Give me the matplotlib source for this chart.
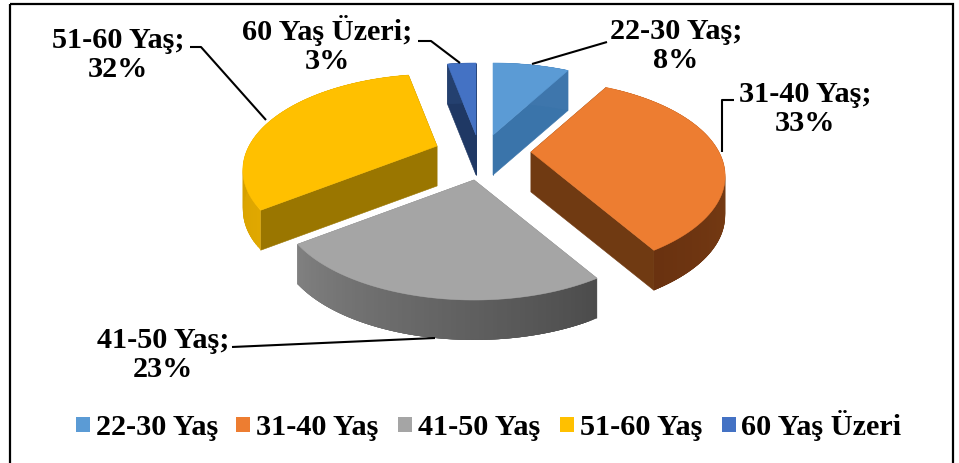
import numpy as np
import matplotlib
matplotlib.use("Agg")
import matplotlib.pyplot as plt
from matplotlib.patches import Polygon, Rectangle
from matplotlib.colors import to_rgb

categories = ["22-30 Yaş", "31-40 Yaş", "41-50 Yaş", "51-60 Yaş", "60 Yaş Üzeri"]
values = [8, 33, 23, 32, 3]
total = 99
# the chart's own percentages sum to 99; angles normalised on it
top_colors = ["#5B9BD5", "#ED7D31", "#A5A5A5", "#FFC000", "#4472C4"]
rim_start = ["#3E76AC", "#8A4A18", "#4C4C4C", "#E0A800", "#24406F"]
rim_end = ["#3E76AC", "#6A3210", "#808080", "#B98C00", "#24406F"]
radial_colors = ["#3A74AA", "#703A12", "#808080", "#9A7600", "#1F3864"]
apexes = [(493, 135), (531, 152), (474, 180), (437, 146), (476, 135)]
label_texts = ["22-30 Yaş;\n8%", "31-40 Yaş;\n33%", "41-50 Yaş;\n23%", "51-60 Yaş;\n32%", "60 Yaş Üzeri;\n3%"]
label_pos = [(676, 46), (805, 109), (163, 355), (118, 55), (327, 45)]
leaders = [
    [(532, 64), (607, 42)],
    [(734, 100), (722, 100), (722, 152)],
    [(232, 347), (435, 338)],
    [(190, 47), (201, 47), (266, 120)],
    [(418, 41), (431, 41), (460, 63)],
]
legend_box_x = [76, 236, 398, 560, 722]
legend_text_x = [96, 256, 418, 580, 741]

R, B, K, DEPTH = 188, 90, 0.25, 40
plt.rcParams["font.family"] = ["Liberation Serif", "DejaVu Serif"]
FS = 21.8

fig = plt.figure(figsize=(9.59, 4.63), dpi=100, facecolor="white")
ax = fig.add_axes([0, 0, 1, 1])
ax.set_xlim(0, 959)
ax.set_ylim(463, 0)
ax.axis("off")


def project(apex, theta):
    x = np.sin(theta)
    y = -np.cos(theta)
    s = 1 / (1 - K * y)
    return np.column_stack([apex[0] + R * x * s, apex[1] + B * y * s])


def mix(c1, c2, t):
    a, b = np.array(to_rgb(c1)), np.array(to_rgb(c2))
    return tuple(a + (b - a) * t)


def quad(p, q, color, z, lw=0.0):
    pts = [p, q, (q[0], q[1] + DEPTH), (p[0], p[1] + DEPTH)]
    ax.add_patch(Polygon(pts, closed=True, facecolor=color, edgecolor=color, lw=lw, zorder=z))


edges = np.cumsum([0] + values) / total * 2 * np.pi
order = [4, 0, 3, 1, 2]
for rank, i in enumerate(order):
    z = 2 + rank
    apex = apexes[i]
    th = np.linspace(edges[i], edges[i + 1], 80)
    rim = project(apex, th)
    for end in (0, -1):
        quad(apex, rim[end], radial_colors[i], z, lw=0.4)
    # each gradient strip reaches into the next one so no seam shows
    for j in range(len(th) - 1):
        quad(rim[j], rim[min(j + 4, len(th) - 1)], mix(rim_start[i], rim_end[i], j / (len(th) - 2)), z)
    ax.add_patch(Polygon(np.vstack([[apex], rim]), closed=True, facecolor=top_colors[i],
                         edgecolor=top_colors[i], lw=0.4, zorder=z))

for pts in leaders:
    xs, ys = zip(*pts)
    ax.plot(xs, ys, color="black", lw=1.5, zorder=20, solid_capstyle="butt")

for txt, (x, y) in zip(label_texts, label_pos):
    ax.text(x, y, txt, ha="center", va="center", fontsize=FS, fontweight="bold",
            color="black", linespacing=1.14, zorder=21)

for name, col, bx, tx in zip(categories, top_colors, legend_box_x, legend_text_x):
    ax.add_patch(Rectangle((bx, 417), 14, 15, facecolor=col, edgecolor="none", zorder=10))
    ax.text(tx, 435, name, ha="left", va="baseline", fontsize=FS, fontweight="bold", color="black", zorder=21)

ax.add_patch(Rectangle((9.5, 4), 943, 470, fill=False, edgecolor="black", lw=1.6, zorder=30, clip_on=True))

fig.savefig("out.png", dpi=100)
